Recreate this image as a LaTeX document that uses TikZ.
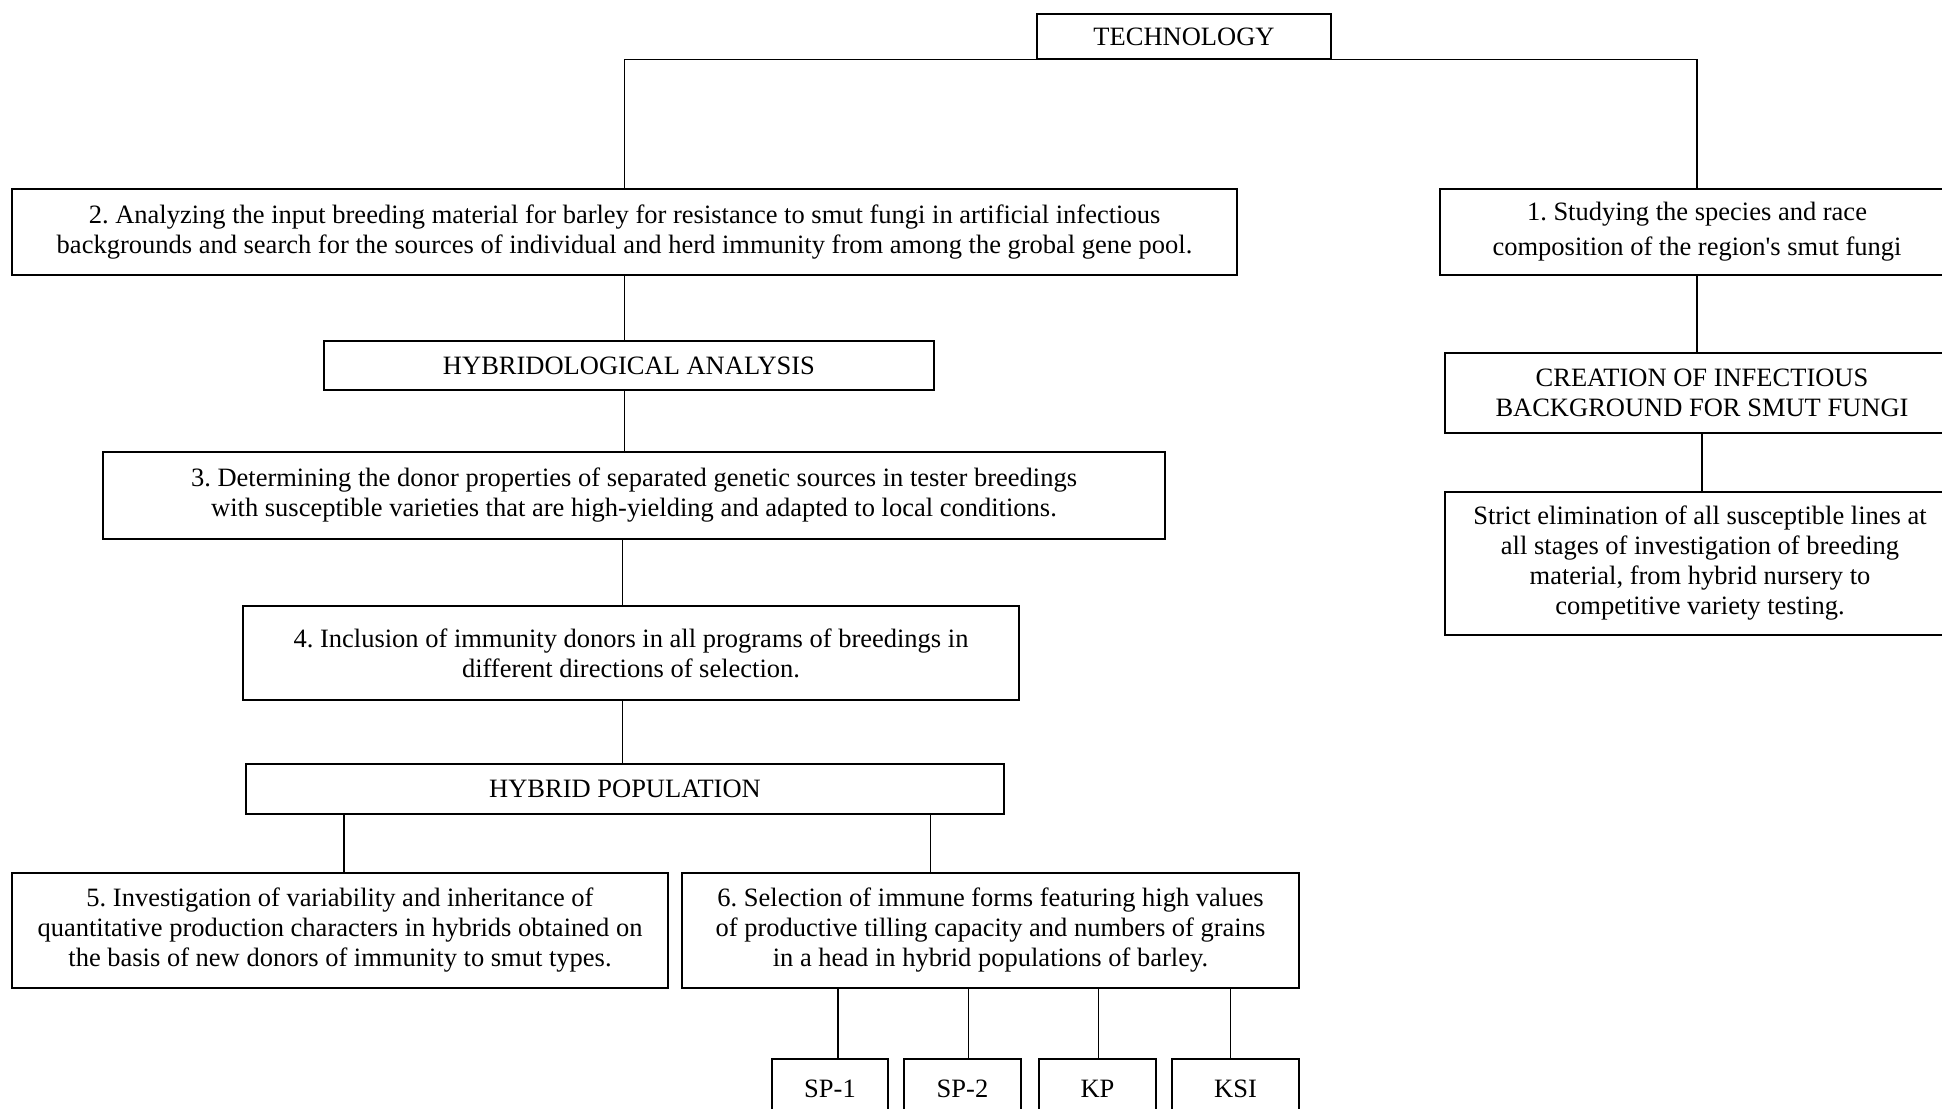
\documentclass[tikz,border=0pt]{standalone}
\usepackage{fontspec}
\setmainfont{Liberation Serif}
\frenchspacing

\begin{document}
\begin{tikzpicture}[x=1pt, y=-1pt, line width=1.2pt,
        box/.style={draw, align=center, inner sep=0pt, font=\fontsize{26.5}{30}\selectfont}]
        \useasboundingbox[fill=white] (0,0) rectangle (1942,1108);
        \node[box, minimum width=294pt, minimum height=45pt] (tech) at (1184,36.5) {TECHNOLOGY};
        % left branch
        \node[box, minimum width=1225pt, minimum height=86pt] (a2) at (624.5,232) {2. Analyzing the input breeding material for barley for resistance to smut fungi in artificial infectious\\ backgrounds and search for the sources of individual and herd immunity from among the grobal gene pool.};
        \node[box, minimum width=610pt, minimum height=49pt] (hyb) at (629,365.5) {HYBRIDOLOGICAL ANALYSIS};
        \node[box, minimum width=1062pt, minimum height=87pt] (a3) at (634,495.5) {3. Determining the donor properties of separated genetic sources in tester breedings\\ with susceptible varieties that are high-yielding and adapted to local conditions.};
        \node[box, minimum width=776pt, minimum height=94pt] (a4) at (631,653) {4. Inclusion of immunity donors in all programs of breedings in\\ different directions of selection.};
        \node[box, minimum width=758pt, minimum height=50pt] (pop) at (625,789) {HYBRID POPULATION};
        \node[box, minimum width=656pt, minimum height=115pt] (a5) at (340,930.5) {5. Investigation of variability and inheritance of\\ quantitative production characters in hybrids obtained on\\ the basis of new donors of immunity to smut types.};
        \node[box, minimum width=617pt, minimum height=115pt] (a6) at (990.5,930.5) {6. Selection of immune forms featuring high values\\ of productive tilling capacity and numbers of grains\\ in a head in hybrid populations of barley.};
        \node[box, minimum width=116pt, minimum height=60pt] (sp1) at (830,1089) {SP-1};
        \node[box, minimum width=117pt, minimum height=60pt] (sp2) at (962.5,1089) {SP-2};
        \node[box, minimum width=117pt, minimum height=60pt] (kp) at (1097.5,1089) {KP};
        \node[box, minimum width=127pt, minimum height=60pt] (ksi) at (1235.5,1089) {KSI};
        % right branch
        \node[box, minimum width=514pt, minimum height=86pt, font=\fontsize{26.5}{35}\selectfont] (a1) at (1697,232) {1. Studying the species and race\\ composition of the region\textquotesingle s smut fungi};
        \node[box, minimum width=514pt, minimum height=80pt] (inf) at (1702,393) {CREATION OF INFECTIOUS\\ BACKGROUND FOR SMUT FUNGI};
        \node[box, minimum width=510pt, minimum height=143pt] (elim) at (1700,563.5) {Strict elimination of all susceptible lines at\\ all stages of investigation of breeding\\ material, from hybrid nursery to\\ competitive variety testing.};
        % connectors
        \draw (a2.north) |- (tech.south) -| (a1.north);
        \draw (a2.south) -- (a2.south |- hyb.north);
        \draw (a2.south |- hyb.south) -- (a2.south |- a3.north);
        \draw ([xshift=-2pt]a2.south |- a3.south) -- ([xshift=-2pt]a2.south |- a4.north);
        \draw ([xshift=-2pt]a2.south |- a4.south) -- ([xshift=-2pt]a2.south |- pop.north);
        \draw ([xshift=4pt]a5.north) -- ([xshift=4pt]a5.north |- pop.south);
        \draw ([xshift=-60pt]a6.north) -- ([xshift=-60pt]a6.north |- pop.south);
        \foreach \s/\d in {sp1/8,sp2/6,kp/1,ksi/-5}
            \draw ([xshift=\d pt]\s.north) -- ([xshift=\d pt]\s.north |- a6.south);
        \draw (a1.south) -- (a1.south |- inf.north);
        \draw (inf.south) -- (inf.south |- elim.north);
    \end{tikzpicture}
\end{document}
